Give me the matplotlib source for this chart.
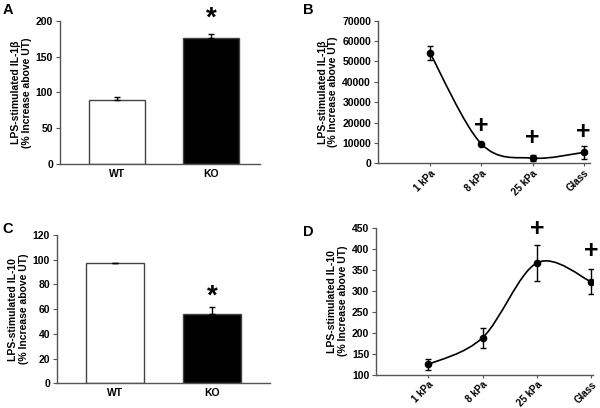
import numpy as np
import matplotlib
matplotlib.use("Agg")
import matplotlib.pyplot as plt
from matplotlib.path import Path
from matplotlib.patches import PathPatch

plt.rcParams["font.family"] = ["Liberation Sans", "DejaVu Sans"]
plt.rcParams["font.weight"] = "bold"

# ─── DATA ────────────────────────────────────────────────────────────────────
bar_groups = ["WT", "KO"]
il1b_bar = [89, 176]
il1b_bar_err = [4, 6]
il10_bar = [97, 56]
il10_bar_err = [0.5, 6]

stiffness = ["1 kPa", "8 kPa", "25 kPa", "Glass"]
il1b_line = [54000, 9500, 2500, 5300]
il1b_line_err = [3500, 400, 1300, 3000]
il1b_plus_y = [None, 18200, 12600, 15400]

il10_line = [124, 188, 366, 321]
il10_line_err = [13, 24, 42, 30]
il10_plus_y = [None, None, 446, 394]

YLAB_1B = "LPS-stimulated IL-1\u03b2\n(% Increase above UT)"
YLAB_10 = "LPS-stimulated IL-10\n(% Increase above UT)"

AXCOL = "#555555"


def style_axes(ax, xtick_len=0, xlabsize=7.5):
    for s in ["top", "right"]:
        ax.spines[s].set_visible(False)
    for s in ["left", "bottom"]:
        ax.spines[s].set_color(AXCOL)
        ax.spines[s].set_linewidth(1.0)
    ax.tick_params(axis="y", length=3, width=0.8, color=AXCOL, labelsize=7.5, pad=2)
    ax.tick_params(axis="x", length=xtick_len, width=0.8, color=AXCOL, labelsize=xlabsize)
    for t in ax.get_yticklabels() + ax.get_xticklabels():
        t.set_fontweight("bold")


def smooth_line(ax, xs, ys):
    # Excel-like smoothed line: cubic Bezier through the points
    pts = np.column_stack([xs, ys]).astype(float)
    n = len(pts)
    verts = [pts[0]]
    codes = [Path.MOVETO]
    for i in range(n - 1):
        p0 = pts[i - 1] if i > 0 else pts[i]
        p1 = pts[i]
        p2 = pts[i + 1]
        p3 = pts[i + 2] if i + 2 < n else pts[i + 1]
        c1 = p1 + (p2 - p0) / 6.0
        c2 = p2 - (p3 - p1) / 6.0
        verts += [c1, c2, p2]
        codes += [Path.CURVE4] * 3
    ax.add_patch(PathPatch(Path(verts, codes), fill=False, lw=1.2, color="black"))


def bar_panel(ax, vals, errs, ylim, yticks, ylabel, star_y, xlim):
    x = np.arange(1, len(vals) + 1)
    ax.bar(x, vals, width=0.6, color=["white", "black"], edgecolor="#444444", linewidth=1.0)
    ax.errorbar(x, vals, yerr=[[0, 0], errs], fmt="none", ecolor="black",
                elinewidth=1.0, capsize=2.5, capthick=1.0)
    ax.set_xlim(*xlim)
    ax.set_ylim(*ylim)
    ax.set_yticks(yticks)
    ax.set_xticks(x)
    ax.set_xticklabels(bar_groups)
    ax.set_ylabel(ylabel, fontsize=7.5, fontweight="bold", labelpad=3, linespacing=1.05)
    ax.text(2, star_y, "*", ha="center", va="center", fontsize=20,
            fontweight="bold", clip_on=False)
    style_axes(ax)


def line_panel(ax, vals, errs, plus_y, ylim, yticks, ylabel, xlim):
    x = np.arange(1, len(vals) + 1)
    smooth_line(ax, x, vals)
    ax.errorbar(x, vals, yerr=errs, fmt="o", color="black", ms=4.5,
                elinewidth=1.0, capsize=2, capthick=1.0)
    for xi, py in zip(x, plus_y):
        if py is not None:
            ax.text(xi, py, "+", ha="center", va="center", fontsize=18,
                    fontweight="bold", clip_on=False)
    ax.set_xlim(*xlim)
    ax.set_ylim(*ylim)
    ax.set_yticks(yticks)
    ax.set_xticks(x)
    ax.set_xticklabels(stiffness, rotation=45, ha="right", rotation_mode="anchor")
    ax.set_ylabel(ylabel, fontsize=7.5, fontweight="bold", labelpad=3, linespacing=1.05)
    style_axes(ax, xtick_len=2.5, xlabsize=7)
    ax.tick_params(axis="x", pad=1)


fig = plt.figure(figsize=(6.0, 4.08), dpi=100)

axA = fig.add_axes([0.100, 0.598, 0.333, 0.351])
bar_panel(axA, il1b_bar, il1b_bar_err, (0, 200), range(0, 201, 50), YLAB_1B, 203,
          (0.39, 2.52))

axB = fig.add_axes([0.630, 0.600, 0.353, 0.349])
line_panel(axB, il1b_line, il1b_line_err, il1b_plus_y, (0, 70000),
           range(0, 70001, 10000), YLAB_1B, (-0.02, 4.12))

axC = fig.add_axes([0.095, 0.0605, 0.355, 0.3635])
bar_panel(axC, il10_bar, il10_bar_err, (0, 120), range(0, 121, 20), YLAB_10, 70,
          (0.40, 2.60))

axD = fig.add_axes([0.627, 0.082, 0.362, 0.360])
line_panel(axD, il10_line, il10_line_err, il10_plus_y, (100, 450),
           range(100, 451, 50), YLAB_10, (0.04, 4.04))

for lbl, x, y in [("A", 0.004, 0.992), ("B", 0.505, 0.992),
                  ("C", 0.004, 0.455), ("D", 0.505, 0.448)]:
    fig.text(x, y, lbl, fontsize=10.5, fontweight="bold", va="top")

fig.savefig("out.png", dpi=100)
